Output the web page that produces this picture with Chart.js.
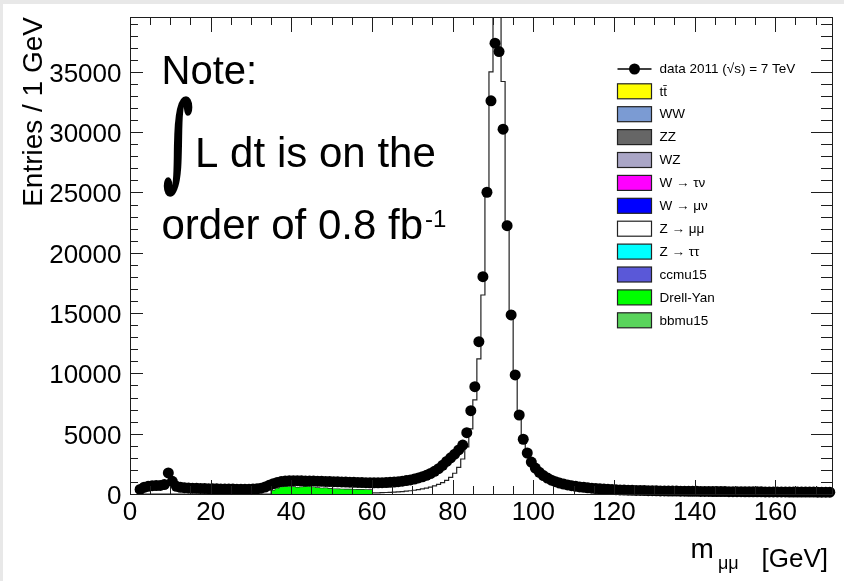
<!DOCTYPE html>
<html><head><meta charset="utf-8">
<script src="https://cdn.jsdelivr.net/npm/chart.js@4"></script>
<style>html,body{margin:0;padding:0;background:#fff;overflow:hidden}canvas{display:block}</style>
</head><body>
<canvas id="c" width="844" height="581"></canvas>
<script>
// ---- data (bin centres, GeV; 1 GeV bins) ----
const massCenters = [2.5,3.5,4.5,5.5,6.5,7.5,8.5,9.5,10.5,11.5,12.5,13.5,14.5,15.5,16.5,17.5,18.5,19.5,20.5,21.5,22.5,23.5,24.5,25.5,26.5,27.5,28.5,29.5,30.5,31.5,32.5,33.5,34.5,35.5,36.5,37.5,38.5,39.5,40.5,41.5,42.5,43.5,44.5,45.5,46.5,47.5,48.5,49.5,50.5,51.5,52.5,53.5,54.5,55.5,56.5,57.5,58.5,59.5,60.5,61.5,62.5,63.5,64.5,65.5,66.5,67.5,68.5,69.5,70.5,71.5,72.5,73.5,74.5,75.5,76.5,77.5,78.5,79.5,80.5,81.5,82.5,83.5,84.5,85.5,86.5,87.5,88.5,89.5,90.5,91.5,92.5,93.5,94.5,95.5,96.5,97.5,98.5,99.5,100.5,101.5,102.5,103.5,104.5,105.5,106.5,107.5,108.5,109.5,110.5,111.5,112.5,113.5,114.5,115.5,116.5,117.5,118.5,119.5,120.5,121.5,122.5,123.5,124.5,125.5,126.5,127.5,128.5,129.5,130.5,131.5,132.5,133.5,134.5,135.5,136.5,137.5,138.5,139.5,140.5,141.5,142.5,143.5,144.5,145.5,146.5,147.5,148.5,149.5,150.5,151.5,152.5,153.5,154.5,155.5,156.5,157.5,158.5,159.5,160.5,161.5,162.5,163.5,164.5,165.5,166.5,167.5,168.5,169.5,170.5,171.5,172.5,173.5];

const dataEntries = [
 380,560,640,690,700,710,780,1750,1050,640,
 560,520,500,480,470,460,450,440,430,425,
 420,415,410,405,400,400,395,400,410,430,
 480,580,720,860,960,1030,1070,1090,1100,1100,
 1090,1080,1080,1070,1060,1050,1040,1030,1020,1010,
 1000,990,980,970,960,950,940,930,930,930,
 940,950,970,990,1020,1060,1110,1170,1240,1330,
 1430,1550,1700,1880,2100,2380,2700,3000,3300,3650,
 4060,5080,6910,8900,12630,18020,25020,32600,37380,36680,
 30250,22250,14850,9870,6550,4540,3400,2650,2150,1800,
 1530,1320,1150,1020,910,820,750,690,640,590,
 550,515,485,455,430,410,390,370,355,340,
 330,320,310,300,292,285,278,271,265,259,
 254,249,244,239,235,231,227,223,219,216,
 213,210,207,204,201,198,195,193,191,188,
 186,184,182,180,178,176,174,172,170,168,
 167,165,163,162,160,159,157,156,154,153,
 152,150];

const zmumuMC = [
 0,0,0,0,0,0,0,0,0,0,
 0,0,0,0,0,0,0,0,0,0,
 0,0,0,0,0,0,0,0,0,0,
 0,0,0,0,0,0,0,0,0,0,
 0,0,0,0,0,0,0,0,0,0,
 0,0,0,0,0,0,0,0,90,100,
 110,125,140,160,180,205,235,270,310,360,
 420,490,570,670,790,940,1130,1380,1720,2200,
 2900,3900,5400,7800,11200,16500,25200,35000,42000,41500,
 34200,22600,15200,9900,6600,4500,3200,2400,1900,1550,
 1280,1080,930,810,710,630,560,500,450,410,
 375,345,320,295,275,258,242,228,215,204,
 194,185,177,170,163,157,151,146,141,137,
 133,129,126,123,120,117,114,112,110,108,
 106,104,102,100,98,96,94,93,91,90,
 88,87,86,84,83,82,81,80,79,78,
 77,76,75,74,73,72,71,70,70,69,
 68,67];

const dyCenters = [35.5,36.5,37.5,38.5,39.5,40.5,41.5,42.5,43.5,44.5,45.5,46.5,47.5,48.5,49.5,50.5,51.5,52.5,53.5,54.5,55.5,56.5,57.5,58.5,59.5];
const drellYanMC = [280,430,560,610,600,590,540,570,610,600,560,500,470,480,440,410,400,390,380,380,370,360,360,350,340];

const xTickValues = [0,20,40,60,80,100,120,140,160];
const xTickLabels = ['0','20','40','60','80','100','120','140','160'];
const yTickValues = [0,5000,10000,15000,20000,25000,30000,35000];
const yTickLabels = ['0','5000','10000','15000','20000','25000','30000','35000'];

const legendLabels = ['data 2011 (\u221As) = 7 TeV','t\u0074\u0304','WW','ZZ','WZ','W \u2192 \u03C4\u03BD','W \u2192 \u03BC\u03BD','Z \u2192 \u03BC\u03BC','Z \u2192 \u03C4\u03C4','ccmu15','Drell-Yan','bbmu15'];
const legendColors = [null,'#ffff00','#7b9bd3','#666666','#aaa6c6','#ff00ff','#0000ff','#ffffff','#00ffff','#5a58d8','#00ff00','#59d45b'];

// ---- build library tables ----
const FONT = "'Liberation Sans', Arial, Helvetica, sans-serif";
const dataPts = massCenters.map((c,i)=>({x:c, y:dataEntries[i]}));
function histEdges(centers, vals){
  const pts = centers.map((c,i)=>({x:c-0.5, y:vals[i]}));
  pts.push({x:centers[centers.length-1]+0.5, y:vals[vals.length-1]});
  return pts;
}
const mcTotal = massCenters.map((c,i)=>{
  const k = dyCenters.indexOf(c);
  return zmumuMC[i] + (k>=0 ? drellYanMC[k] : 0);
});
const totPts = histEdges(massCenters, mcTotal);
const dyPts = histEdges(dyCenters, drellYanMC);

const bgPlugin = {
  id:'bg',
  beforeDraw(chart){
    const c = chart.ctx;
    c.save();
    c.fillStyle='#e8e8e8'; c.fillRect(0,0,chart.width,chart.height);
    c.fillStyle='#ffffff'; c.fillRect(3,4,chart.width-3,chart.height-4);
    c.restore();
  }
};

const framePlugin = {
  id:'frame',
  afterDraw(chart){
    const c = chart.ctx, a = chart.chartArea, xs = chart.scales.x, ys = chart.scales.y;
    c.save();
    c.strokeStyle='#1e1e1e'; c.lineWidth=1;
    c.strokeRect(a.left+0.5, a.top+0.5, a.right-a.left-1, a.bottom-a.top);
    c.beginPath();
    for(let v=0; v<=xs.max; v+=5){
      const px = Math.round(xs.getPixelForValue(v))+0.5;
      const major = v%20===0;
      c.moveTo(px, a.bottom); c.lineTo(px, a.bottom-(major?14:8));
      c.moveTo(px, a.top); c.lineTo(px, a.top+(major?15:8));
    }
    for(let v=0; v<=ys.max; v+=1000){
      const py = Math.round(ys.getPixelForValue(v))+0.5;
      const major = v%5000===0;
      c.moveTo(a.left, py); c.lineTo(a.left+(major?13:8), py);
      c.moveTo(a.right, py); c.lineTo(a.right-(major?22:12), py);
    }
    c.stroke();
    // tick labels
    c.fillStyle='#000';
    c.font = '26px '+FONT;
    c.textAlign='center'; c.textBaseline='alphabetic';
    xTickValues.forEach((v,i)=>{ c.fillText(xTickLabels[i], xs.getPixelForValue(v), 520); });
    c.textAlign='right';
    yTickValues.forEach((v,i)=>{ c.fillText(yTickLabels[i], 121.5, ys.getPixelForValue(v)+10); });
    // y title
    c.save();
    c.translate(41.5, 17); c.rotate(-Math.PI/2);
    c.font='28px '+FONT; c.textAlign='right';
    c.fillText('Entries / 1 GeV', 0, 0);
    c.restore();
    // x title
    c.textAlign='left';
    c.font='28px '+FONT; c.fillText('m', 690.5, 558);
    c.font='18px '+FONT; c.fillText('\u03BC\u03BC', 718, 569);
    c.font='26px '+FONT; c.fillText('[GeV]', 761.5, 567);
    // note
    c.font='40px '+FONT; c.fillText('Note:', 161.5, 83.5);
    c.font='42px '+FONT;
    c.fillText('L dt', 195, 166.5);
    c.fillText('is on the', 277, 166.5);
    c.fillText('order of 0.8 fb', 161.5, 238.5);
    const w = c.measureText('order of 0.8 fb').width;
    c.font='24px '+FONT; c.fillText('-1', 161.5+w+2, 226.5);
    // integral sign fitted into its box
    c.font='bold 100px "DejaVu Serif", "Liberation Serif", serif';
    const m = c.measureText('\u222B');
    const gh = m.actualBoundingBoxAscent + m.actualBoundingBoxDescent;
    const gw = m.actualBoundingBoxLeft + m.actualBoundingBoxRight;
    c.save();
    c.translate(164.5, 98.5);
    c.scale(27/gw, 97/gh);
    c.lineWidth = 4; c.lineJoin='round'; c.strokeStyle='#000';
    c.strokeText('\u222B', m.actualBoundingBoxLeft, m.actualBoundingBoxAscent);
    c.fillText('\u222B', m.actualBoundingBoxLeft, m.actualBoundingBoxAscent);
    c.restore();
    // legend
    const lx0 = 617.5, lx1 = 651.5, tx = 659.5;
    c.font='13.5px '+FONT; c.textBaseline='middle';
    legendLabels.forEach((lab,i)=>{
      const yc = i===0 ? 69 : 91.3 + 22.9*(i-1);
      if(i===0){
        c.beginPath(); c.lineWidth=1.5; c.strokeStyle='#000';
        c.moveTo(lx0, yc); c.lineTo(lx1, yc); c.stroke();
        c.beginPath(); c.fillStyle='#000'; c.arc((lx0+lx1)/2, yc, 5.5, 0, Math.PI*2); c.fill();
      } else {
        c.fillStyle=legendColors[i];
        c.fillRect(lx0, yc-7.5, lx1-lx0, 15);
        c.lineWidth=1.2; c.strokeStyle='#222';
        c.strokeRect(lx0, yc-7.5, lx1-lx0, 15);
      }
      c.fillStyle='#000';
      c.fillText(lab, tx, yc+0.5);
    });
    c.restore();
  }
};

new Chart(document.getElementById('c').getContext('2d'), {
  type:'line',
  data:{ datasets:[
    {label:'data', data:dataPts, showLine:false, pointRadius:5.5, pointHoverRadius:5.5,
     pointBackgroundColor:'#000', pointBorderColor:'#000', pointBorderWidth:0, order:0, clip:false},
    {label:'Drell-Yan', data:dyPts, stepped:'before', borderWidth:0, borderColor:'rgba(0,0,0,0)',
     backgroundColor:'#00ff00', fill:'origin', pointRadius:0, order:1},
    {label:'MC', data:totPts, stepped:'before', borderColor:'#222', borderWidth:1.2,
     backgroundColor:'#ffffff', fill:'origin', pointRadius:0, order:2}
  ]},
  options:{
    responsive:false, devicePixelRatio:1, animation:false, events:[],
    layout:{padding:{left:130, top:17, right:11, bottom:87}},
    plugins:{legend:{display:false}, tooltip:{enabled:false}},
    scales:{
      x:{type:'linear', min:0, max:174.3, display:false},
      y:{type:'linear', min:0, max:39550, display:false}
    }
  },
  plugins:[bgPlugin, framePlugin]
});
</script>
</body></html>
